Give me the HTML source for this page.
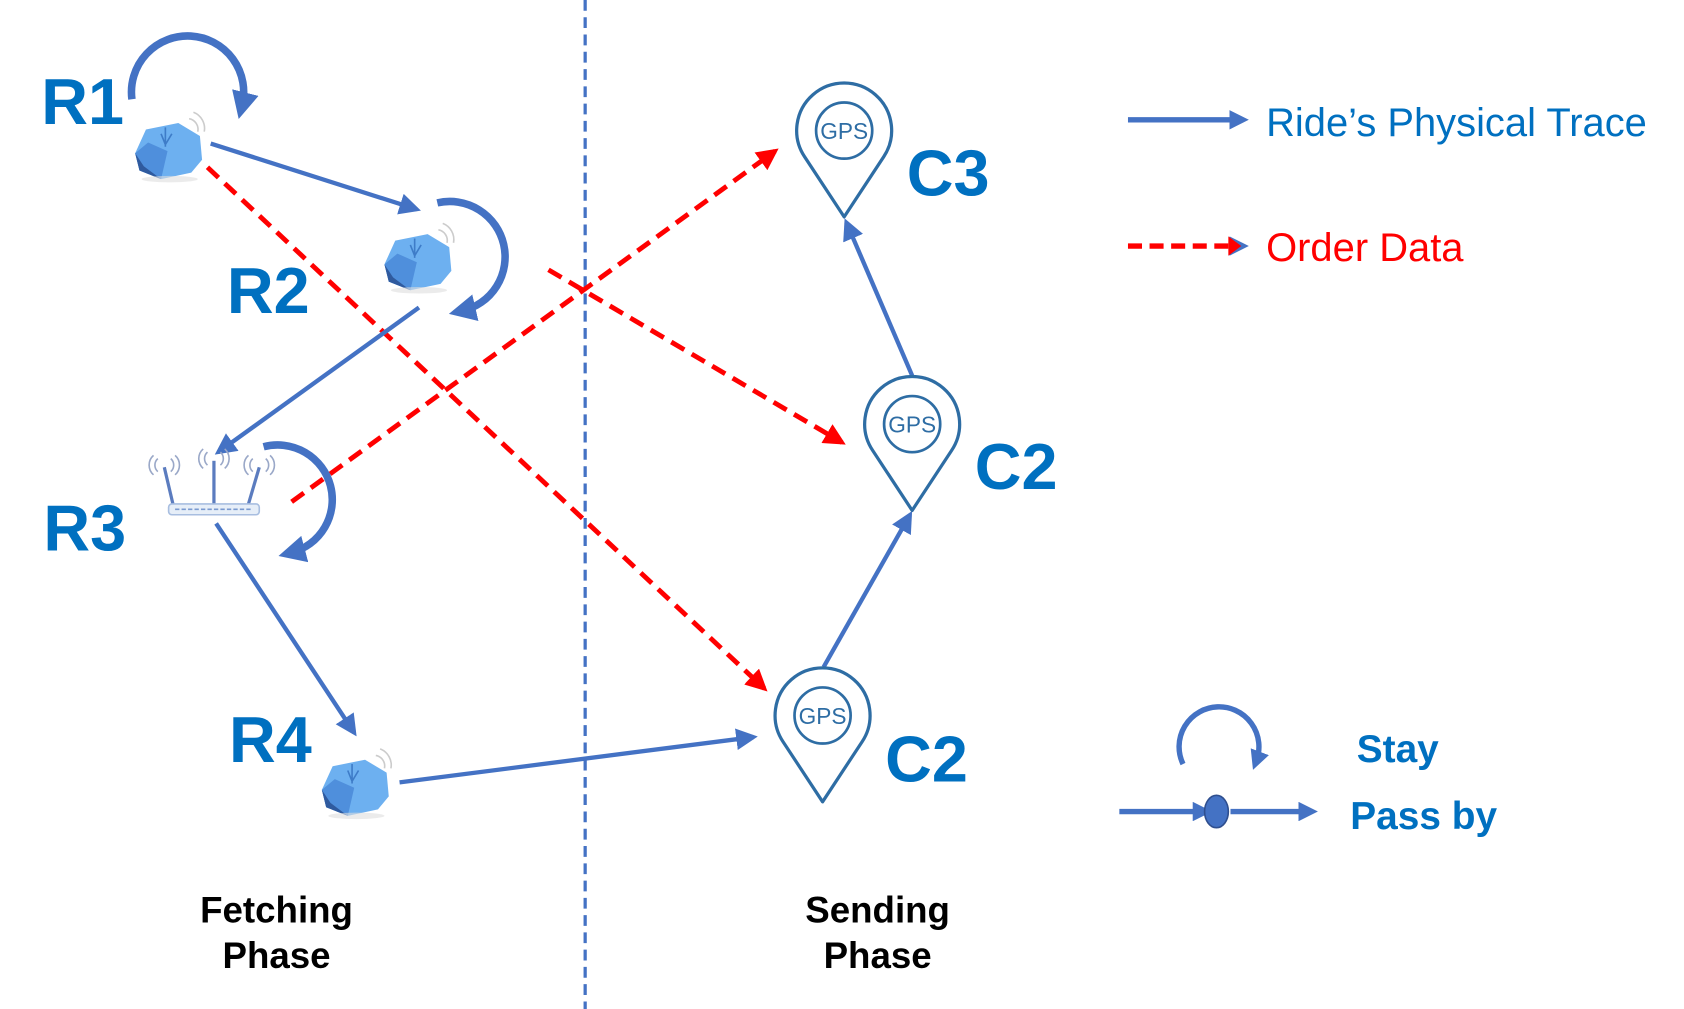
<!DOCTYPE html>
<html><head><meta charset="utf-8"><style>
html,body{margin:0;padding:0;background:#fff;}
svg{display:block;}
</style></head><body>
<svg width="1684" height="1009" viewBox="0 0 1560 935" xmlns="http://www.w3.org/2000/svg" font-family="Liberation Sans, sans-serif">
<defs>
<marker id="ab" viewBox="0 0 10 10" refX="8" refY="5" markerWidth="5" markerHeight="5" orient="auto" markerUnits="strokeWidth"><path d="M0,0 L10,5 L0,10 z" fill="#4472C4"/></marker>
<marker id="ar" viewBox="0 0 10 10" refX="8" refY="5" markerWidth="4.5" markerHeight="4.5" orient="auto" markerUnits="strokeWidth"><path d="M0,0 L10,5 L0,10 z" fill="#FF0000"/></marker>
<marker id="ak" viewBox="0 0 10 10" refX="5" refY="5" markerWidth="3.6" markerHeight="3.6" orient="auto" markerUnits="strokeWidth"><path d="M0,0 L10,5 L0,10 z" fill="#4472C4"/></marker>
<g id="dev">
<path d="M-22,-20 L8,-26 L28,-14 L30,8 L20,20 L-8,26 L-28,18 L-32,2 Z" fill="#6DB0F0"/>
<path d="M-32,2 L-20,-8 L-2,0 L-8,26 L-28,18 Z" fill="#4F8FDC"/>
<path d="M-32,2 L-24,14 L-8,26 L-28,18 Z" fill="#2F5A9E"/>
<path d="M-8,-16 L-4,-6 L2,-16 M-4,-22 L-4,-4" stroke="#3E7CC8" stroke-width="1.5" fill="none"/>
<ellipse cx="0" cy="26" rx="26" ry="3" fill="#ddd" opacity="0.6"/>
<path d="M18,-30 a10,10 0 0 1 8,12 M22,-36 a16,16 0 0 1 10,18" stroke="#ccc" stroke-width="1.5" fill="none"/>
</g>
<g id="pin">
<path d="M0,80 L-36.7,24.2 A44,44 0 1 1 36.7,24.2 Z" fill="#fff" stroke="#2E6DA4" stroke-width="3" stroke-linejoin="round"/>
<circle r="26" fill="none" stroke="#2E6DA4" stroke-width="2.5"/>
<text x="0" y="8" font-size="21" fill="#2E6DA4" text-anchor="middle">GPS</text>
</g>
</defs>

<!-- divider -->
<line x1="542" y1="0" x2="542" y2="935" stroke="#4472C4" stroke-width="3" stroke-dasharray="10,6"/>

<!-- red dashed -->
<g stroke="#FF0000" stroke-width="4.5" stroke-dasharray="14,8" fill="none">
<line x1="192" y1="155" x2="708" y2="638" marker-end="url(#ar)"/>
<line x1="508" y1="250" x2="780" y2="410" marker-end="url(#ar)"/>
<line x1="270" y1="465" x2="718" y2="140" marker-end="url(#ar)"/>
</g>

<!-- blue traces -->
<g stroke="#4472C4" stroke-width="4" fill="none">
<line x1="195" y1="133" x2="386" y2="194" marker-end="url(#ab)"/>
<line x1="388" y1="285" x2="202" y2="419" marker-end="url(#ab)"/>
<line x1="200" y1="485" x2="328" y2="679" marker-end="url(#ab)"/>
<line x1="370" y1="725" x2="698" y2="683" marker-end="url(#ab)"/>
<line x1="763" y1="618" x2="843" y2="477" marker-end="url(#ab)"/>
<line x1="845" y1="348" x2="784" y2="206" marker-end="url(#ab)"/>
</g>

<!-- stay arcs -->
<g stroke="#4472C4" stroke-width="7" fill="none">
<path d="M122,92 A52,52 0 1 1 224,98" marker-end="url(#ak)"/>
<path d="M405,188 A50,50 0 0 1 428,288" marker-end="url(#ak)"/>
<path d="M244,414 A50,50 0 0 1 270,512" marker-end="url(#ak)"/>
<path d="M1096,708 A37,37 0 1 1 1164,705" marker-end="url(#ak)" stroke-width="5"/>
</g>

<!-- devices -->
<use href="#dev" x="157" y="140"/>
<use href="#dev" x="388" y="243"/>
<use href="#dev" x="330" y="730" transform="rotate(0)"/>

<!-- router -->
<g transform="translate(198,455)">
<line x1="-38" y1="12" x2="-46" y2="-22" stroke="#5B7CBF" stroke-width="3"/>
<line x1="0" y1="12" x2="0" y2="-28" stroke="#5B7CBF" stroke-width="3"/>
<line x1="32" y1="12" x2="42" y2="-22" stroke="#5B7CBF" stroke-width="3"/>
<rect x="-42" y="12" width="84" height="10" rx="3" fill="#E6EEF8" stroke="#A8BEE0" stroke-width="1.5"/>
<line x1="-36" y1="17" x2="36" y2="17" stroke="#7A9AD0" stroke-width="1.5" stroke-dasharray="4,2"/>
<g stroke="#9AA8C8" stroke-width="1.5" fill="none">
<path d="M-52,-30 a8,8 0 0 0 0,12 M-56,-33 a12,12 0 0 0 0,18 M-40,-30 a8,8 0 0 1 0,12 M-36,-33 a12,12 0 0 1 0,18"/>
<path d="M-6,-36 a8,8 0 0 0 0,12 M-10,-39 a12,12 0 0 0 0,18 M6,-36 a8,8 0 0 1 0,12 M10,-39 a12,12 0 0 1 0,18"/>
<path d="M36,-30 a8,8 0 0 0 0,12 M32,-33 a12,12 0 0 0 0,18 M48,-30 a8,8 0 0 1 0,12 M52,-33 a12,12 0 0 1 0,18"/>
</g>
</g>

<!-- pins -->
<use href="#pin" x="782" y="121"/>
<use href="#pin" x="845" y="393"/>
<use href="#pin" x="762" y="663"/>

<!-- labels -->
<g fill="#0070C0" font-weight="bold" font-size="60">
<text x="38" y="115">R1</text>
<text x="210" y="290">R2</text>
<text x="40" y="510">R3</text>
<text x="212" y="706">R4</text>
<text x="840" y="181">C3</text>
<text x="903" y="453">C2</text>
<text x="820" y="724">C2</text>
</g>

<!-- legend -->
<line x1="1045" y1="111" x2="1148" y2="111" stroke="#4472C4" stroke-width="5" marker-end="url(#ak)"/>
<text x="1173" y="126" font-size="37" fill="#0070C0">Ride’s Physical Trace</text>
<line x1="1045" y1="228" x2="1148" y2="228" stroke="#FF0000" stroke-width="5" stroke-dasharray="13,7" marker-end="url(#ak)" />
<path d="M1138,219 L1150,228 L1138,237 Z" fill="#FF0000"/>
<text x="1173" y="242" font-size="37" fill="#FF0000">Order Data</text>

<line x1="1037" y1="752" x2="1114" y2="752" stroke="#4472C4" stroke-width="5" marker-end="url(#ak)"/>
<line x1="1140" y1="752" x2="1212" y2="752" stroke="#4472C4" stroke-width="5" marker-end="url(#ak)"/>
<ellipse cx="1127" cy="752" rx="11" ry="15" fill="#4472C4" stroke="#2F4F8F" stroke-width="1.5"/>
<text x="1257" y="706" font-size="36" font-weight="bold" fill="#0070C0">Stay</text>
<text x="1251" y="768" font-size="36" font-weight="bold" fill="#0070C0">Pass by</text>

<g font-size="34" font-weight="bold" fill="#000" text-anchor="middle">
<text x="256" y="855">Fetching</text>
<text x="256" y="897">Phase</text>
<text x="813" y="855">Sending</text>
<text x="813" y="897">Phase</text>
</g>
</svg>
</body></html>
